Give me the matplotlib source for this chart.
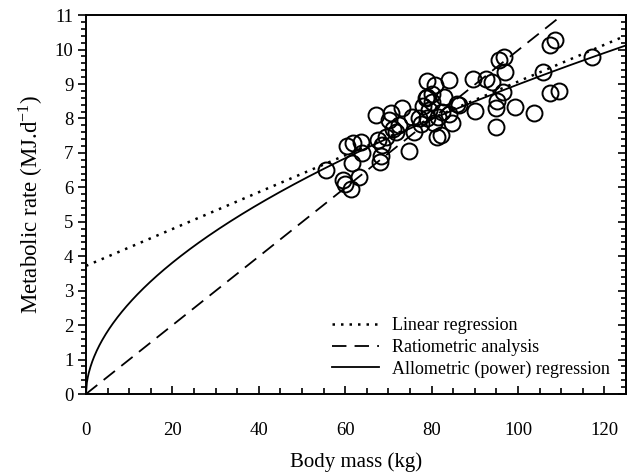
"""
Metabolic rate vs body mass: observed points with linear, ratiometric and
allometric (power) fits.
"""
import numpy as np
import matplotlib
matplotlib.use("Agg")
import matplotlib.pyplot as plt
from matplotlib.ticker import MultipleLocator

mass = [55.5, 59.4, 60.0, 61.3, 61.5, 60.4, 61.9, 63.6, 64.0, 63.1,
        67.1, 67.5, 68.6, 68.4, 68.0, 70.5, 70.2, 72.5, 73.2, 71.7,
        74.8, 75.5, 75.9, 79.0, 80.9, 84.0, 79.0, 80.1, 82.9, 79.4,
        82.5, 79.0, 80.5, 82.1, 81.3, 84.8, 84.0, 89.6, 92.5, 94.0,
        95.5, 96.7, 97.1, 96.5, 95.2, 94.8, 99.4, 103.6, 94.8, 105.9,
        107.5, 109.6, 107.5, 108.6, 90.1, 85.9, 117.1, 78.6, 77.0, 78.0,
        80.0, 81.5, 86.3, 77.5, 69.5, 71.0]
rate = [6.50, 6.21, 6.10, 5.95, 6.70, 7.20, 7.28, 7.33, 7.00, 6.31,
        8.10, 7.37, 7.23, 6.92, 6.74, 8.15, 7.95, 7.81, 8.30, 7.61,
        7.05, 8.05, 7.60, 9.08, 8.97, 9.11, 8.63, 8.49, 8.63, 8.24,
        8.20, 8.00, 7.86, 7.52, 7.47, 7.86, 8.13, 9.16, 9.16, 9.07,
        9.70, 9.79, 9.36, 8.78, 8.51, 8.29, 8.32, 8.15, 7.75, 9.36,
        8.73, 8.80, 10.13, 10.28, 8.22, 8.42, 9.79, 8.58, 8.00, 8.35,
        8.70, 8.05, 8.38, 7.85, 7.45, 7.70]

# fitted models (coefficients estimated from the drawn lines)
lin_a, lin_b = 3.72, 0.0535      # y = a + b*x
ratio_k = 0.0998                 # y = k*x
pow_a, pow_b = 0.773, 0.5327     # y = a*x^b

plt.rcParams["font.family"] = ["Liberation Serif", "DejaVu Serif"]
plt.rcParams["mathtext.fontset"] = "stix"

fig = plt.figure(figsize=(6.35, 4.73), dpi=100)
ax = fig.add_axes([0.1354, 0.167, 0.8504, 0.801])

xs = np.linspace(0, 125, 600)
ax.plot(xs, lin_a + lin_b * xs, color="black", lw=1.8,
        linestyle=(0, (1, 2.4)), label="Linear regression")
ax.plot(xs, ratio_k * xs, color="black", lw=1.3,
        linestyle=(0, (8, 4.5)), label="Ratiometric analysis")
ax.plot(xs, pow_a * xs ** pow_b, color="black", lw=1.3,
        label="Allometric (power) regression")
ax.plot(mass, rate, "o", ms=11.5, mfc="none", mec="black", mew=1.4,
        zorder=3, label="_nolegend_")

ax.set_xlim(0, 125)
ax.set_ylim(0, 11)
ax.xaxis.set_major_locator(MultipleLocator(20))
ax.xaxis.set_minor_locator(MultipleLocator(5))
ax.yaxis.set_major_locator(MultipleLocator(1))
ax.yaxis.set_minor_locator(MultipleLocator(0.2))

for s in ax.spines.values():
    s.set_linewidth(1.4)

ax.tick_params(axis="x", which="both", direction="in", top=False, width=1.2)
ax.tick_params(axis="x", which="major", length=6, pad=20, labelsize=13.5)
ax.tick_params(axis="x", which="minor", length=4)
ax.tick_params(axis="y", which="both", direction="out", right=False, width=1.2)
ax.tick_params(axis="y", which="major", length=6, pad=3, labelsize=13.5)
ax.tick_params(axis="y", which="minor", length=3.5)

# right-hand axis: inward ticks, no labels
sec = ax.secondary_yaxis("right")
sec.yaxis.set_major_locator(MultipleLocator(1))
sec.yaxis.set_minor_locator(MultipleLocator(0.2))
sec.tick_params(which="both", direction="in", labelright=False, width=1.2)
sec.tick_params(which="major", length=6)
sec.tick_params(which="minor", length=3.5)
sec.spines["right"].set_linewidth(1.4)

ax.set_xlabel("Body mass (kg)", fontsize=15, labelpad=10)
ax.set_ylabel(r"Metabolic rate (MJ.d$^{\mathregular{-1}}$)", fontsize=16.5,
              labelpad=7)

ax.legend(loc="lower right", bbox_to_anchor=(1.0, 0.0), frameon=False,
          fontsize=13, handlelength=2.6, handletextpad=0.7,
          labelspacing=0.25, borderaxespad=0.5)

fig.savefig("out.png", dpi=100)
